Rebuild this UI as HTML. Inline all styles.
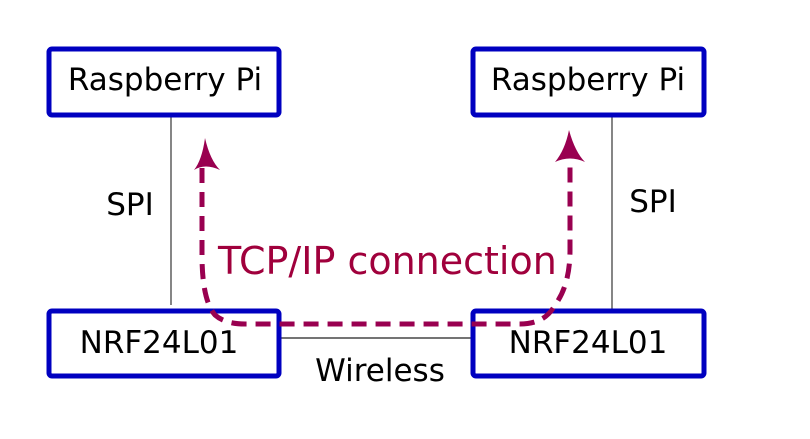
<!DOCTYPE html>
<html><head><meta charset="utf-8"><style>
html,body{margin:0;padding:0;background:#fff;width:810px;height:439px;overflow:hidden}
svg{display:block}
text{font-family:"DejaVu Sans","Liberation Sans",sans-serif}
</style></head><body>
<svg width="810" height="439" viewBox="0 0 810 439" xmlns="http://www.w3.org/2000/svg">
<line x1="171" y1="115" x2="171" y2="305" stroke="#444" stroke-width="1.3"/>
<line x1="612" y1="115" x2="612" y2="309" stroke="#444" stroke-width="1.3"/>
<line x1="280" y1="338" x2="473" y2="338" stroke="#222" stroke-width="1.3"/>
<g fill="#fff" stroke="#0000c0" stroke-width="5">
<rect x="49" y="49" width="230" height="66" rx="3"/>
<rect x="473" y="49" width="231" height="66" rx="3"/>
<rect x="49" y="311" width="230" height="65" rx="3"/>
<rect x="473" y="311" width="231" height="65" rx="3"/>
</g>
<g font-size="31" fill="#000">
<text x="165" y="90" text-anchor="middle">Raspberry Pi</text>
<text x="588" y="90" text-anchor="middle">Raspberry Pi</text>
<text x="159" y="353" text-anchor="middle">NRF24L01</text>
<text x="588" y="353" text-anchor="middle">NRF24L01</text>
<text x="130" y="215" text-anchor="middle">SPI</text>
<text x="653" y="212" text-anchor="middle">SPI</text>
<text x="380" y="381" text-anchor="middle">Wireless</text>
</g>
<path d="M202,168 L202,255 Q202,300 215,315 Q225,324 245,324 L520,324 Q545,324 555,305 Q570,285 570,250 L570,165" fill="none" stroke="#990050" stroke-width="5" stroke-dasharray="15,9"/>
<path d="M205,138 Q210,160 220,170 Q205,163 194,170 Q202,160 205,138Z" fill="#990050"/>
<path d="M569,130 Q575,152 585,162 Q570,155 555,162 Q565,150 569,130Z" fill="#990050"/>
<text x="218" y="274" font-size="38" fill="#a0003c">TCP/IP connection</text>
</svg>
</body></html>
